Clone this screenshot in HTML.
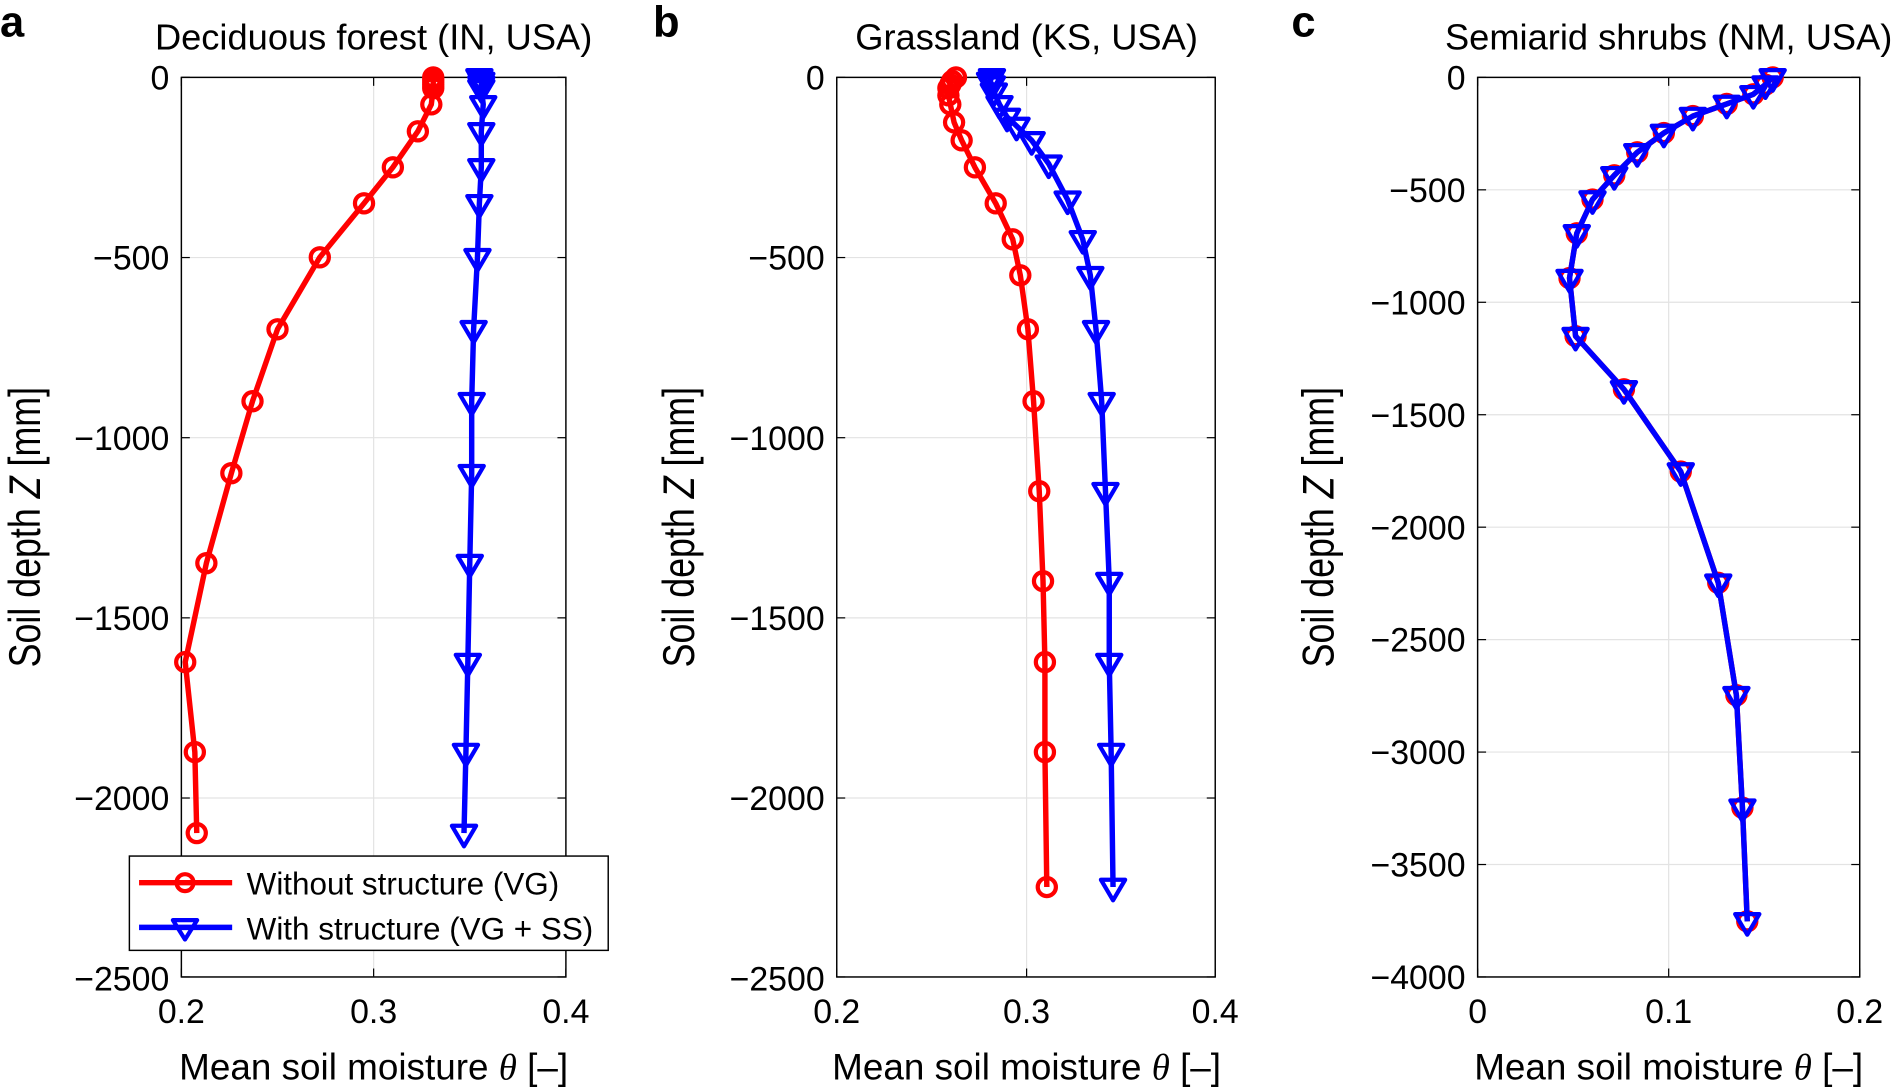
<!DOCTYPE html>
<html><head><meta charset="utf-8"><style>
html,body{margin:0;padding:0;background:#fff;}
svg{display:block;font-family:"Liberation Sans",Arial,sans-serif;}
.t{font-size:28px;fill:#000;}
.ti{font-size:30px;fill:#000;}
.xl{font-size:30.5px;fill:#000;}
.yl{font-size:37px;fill:#000;}
.lt{font-size:36px;font-weight:bold;fill:#000;}
</style></head><body>
<svg id="s" width="1896" height="1087" viewBox="0 0 1568 899" preserveAspectRatio="none" xmlns="http://www.w3.org/2000/svg">
<g id="grids"></g>
<g id="data"></g>
<text class="lt" x="0" y="30">a</text>
<text class="lt" x="540" y="30">b</text>
<text class="lt" x="1068" y="30">c</text>
<text class="ti" x="309" y="41" text-anchor="middle">Deciduous forest (IN, USA)</text>
<text class="ti" x="849" y="41" text-anchor="middle">Grassland (KS, USA)</text>
<text class="ti" x="1380" y="41" text-anchor="middle">Semiarid shrubs (NM, USA)</text>
<g class="t" text-anchor="end">
<text x="140" y="74">0</text><text x="140" y="223">−500</text><text x="140" y="372">−1000</text><text x="140" y="521">−1500</text><text x="140" y="670">−2000</text><text x="140" y="819">−2500</text>
<text x="682" y="74">0</text><text x="682" y="223">−500</text><text x="682" y="372">−1000</text><text x="682" y="521">−1500</text><text x="682" y="670">−2000</text><text x="682" y="819">−2500</text>
<text x="1212" y="74">0</text><text x="1212" y="167">−500</text><text x="1212" y="260">−1000</text><text x="1212" y="353">−1500</text><text x="1212" y="446">−2000</text><text x="1212" y="539">−2500</text><text x="1212" y="632">−3000</text><text x="1212" y="725">−3500</text><text x="1212" y="818">−4000</text>
</g>
<g class="t" text-anchor="middle">
<text x="150" y="846">0.2</text><text x="309" y="846">0.3</text><text x="468" y="846">0.4</text>
<text x="692" y="846">0.2</text><text x="849" y="846">0.3</text><text x="1005" y="846">0.4</text>
<text x="1222" y="846">0</text><text x="1380" y="846">0.1</text><text x="1538" y="846">0.2</text>
</g>
<g class="xl" text-anchor="middle">
<text x="309" y="893">Mean soil moisture <tspan font-family="Liberation Serif" font-style="italic">θ</tspan> [–]</text>
<text x="849" y="893">Mean soil moisture <tspan font-family="Liberation Serif" font-style="italic">θ</tspan> [–]</text>
<text x="1380" y="893">Mean soil moisture <tspan font-family="Liberation Serif" font-style="italic">θ</tspan> [–]</text>
</g>
<g class="yl" text-anchor="middle">
<text transform="translate(33,436) rotate(-90) scale(0.8,1)">Soil depth <tspan font-style="italic">Z</tspan> [mm]</text>
<text transform="translate(574,436) rotate(-90) scale(0.8,1)">Soil depth <tspan font-style="italic">Z</tspan> [mm]</text>
<text transform="translate(1103,436) rotate(-90) scale(0.8,1)">Soil depth <tspan font-style="italic">Z</tspan> [mm]</text>
</g>
<rect x="107" y="708" width="396" height="78" fill="#fff" stroke="#000" stroke-width="1.2"/>
<line x1="115" y1="730" x2="192" y2="730" stroke="#f00" stroke-width="4.5"/>
<circle cx="153" cy="730" r="7" fill="none" stroke="#f00" stroke-width="3.5"/>
<line x1="115" y1="767" x2="192" y2="767" stroke="#00f" stroke-width="4.5"/>
<path d="M143,761 L163,761 L153,777 Z" fill="none" stroke="#00f" stroke-width="3.5" stroke-linejoin="round"/>
<text class="ti" x="204" y="740" style="font-size:26px">Without structure (VG)</text>
<text class="ti" x="204" y="777" style="font-size:26px">With structure (VG + SS)</text>
</svg>
<script>
var NS="http://www.w3.org/2000/svg";
var G=document.getElementById("grids"),D=document.getElementById("data");
function el(p,n,a){var e=document.createElementNS(NS,n);for(var k in a)e.setAttribute(k,a[k]);p.appendChild(e);return e;}
var panels=[
 {x0:150,x1:468,xs:[150,309,468],ys:[64,213,362,511,660,808],xv:[0.2,0.4],yv:[0,-2500]},
 {x0:692,x1:1005,xs:[692,849,1005],ys:[64,213,362,511,660,808],xv:[0.2,0.4],yv:[0,-2500]},
 {x0:1222,x1:1538,xs:[1222,1380,1538],ys:[64,157,250,343,436,529,622,715,808],xv:[0,0.2],yv:[0,-4000]}
];
panels.forEach(function(p){
 p.xs.forEach(function(x){el(G,"line",{x1:x,y1:64,x2:x,y2:808,stroke:"#e3e3e3","stroke-width":1});
  el(G,"line",{x1:x,y1:64,x2:x,y2:71,stroke:"#000","stroke-width":1});el(G,"line",{x1:x,y1:808,x2:x,y2:801,stroke:"#000","stroke-width":1});});
 p.ys.forEach(function(y){el(G,"line",{x1:p.x0,y1:y,x2:p.x1,y2:y,stroke:"#e3e3e3","stroke-width":1});
  el(G,"line",{x1:p.x0,y1:y,x2:p.x0+7,y2:y,stroke:"#000","stroke-width":1});el(G,"line",{x1:p.x1,y1:y,x2:p.x1-7,y2:y,stroke:"#000","stroke-width":1});});
 el(G,"rect",{x:p.x0,y:64,width:p.x1-p.x0,height:744,fill:"none",stroke:"#000","stroke-width":1.2});
});
function map(p,pts){return pts.map(function(d){return [p.x0+(d[0]-p.xv[0])/(p.xv[1]-p.xv[0])*(p.x1-p.x0),64+(d[1]-p.yv[0])/(p.yv[1]-p.yv[0])*744];});}
function series(pts,col,mk){
 el(D,"polyline",{points:pts.map(function(q){return q.join(",")}).join(" "),fill:"none",stroke:col,"stroke-width":4.5,"stroke-linejoin":"round"});
 pts.forEach(function(q){
  if(mk=="o")el(D,"circle",{cx:q[0],cy:q[1],r:7.5,fill:"none",stroke:col,"stroke-width":3.5});
  else el(D,"path",{d:"M"+(q[0]-10)+","+(q[1]-6)+" L"+(q[0]+10)+","+(q[1]-6)+" L"+q[0]+","+(q[1]+11)+" Z",fill:"none",stroke:col,"stroke-width":3.5,"stroke-linejoin":"round"});
 });
}
var aR=[[0.331,0],[0.331,-10],[0.331,-20],[0.331,-30],[0.330,-75],[0.323,-150],[0.31,-250],[0.295,-350],[0.272,-500],[0.250,-700],[0.237,-900],[0.226,-1100],[0.213,-1350],[0.202,-1625],[0.207,-1875],[0.208,-2100]];
var aB=[[0.355,0],[0.356,-10],[0.356,-20],[0.356,-30],[0.357,-75],[0.356,-150],[0.356,-250],[0.355,-350],[0.354,-500],[0.352,-700],[0.351,-900],[0.351,-1100],[0.350,-1350],[0.349,-1625],[0.348,-1875],[0.347,-2100]];
var bR=[[0.263,0],[0.261,-10],[0.260,-20],[0.259,-30],[0.259,-50],[0.260,-75],[0.262,-125],[0.266,-175],[0.273,-250],[0.284,-350],[0.293,-450],[0.297,-550],[0.301,-700],[0.304,-900],[0.307,-1150],[0.309,-1400],[0.310,-1625],[0.310,-1875],[0.311,-2250]];
var bB=[[0.282,0],[0.281,-10],[0.282,-20],[0.283,-40],[0.286,-75],[0.290,-110],[0.295,-135],[0.303,-175],[0.312,-240],[0.322,-340],[0.330,-450],[0.334,-550],[0.337,-700],[0.340,-900],[0.342,-1150],[0.344,-1400],[0.344,-1625],[0.345,-1875],[0.346,-2250]];
var c=[[1466,64],[1460,70],[1450,78],[1428,86],[1400,96],[1376,110],[1354,126],[1335,145],[1317,165],[1304,193],[1298,230],[1303,278],[1343,322],[1390,390],[1421,482],[1436,575],[1441,668],[1445,762]];
series(map(panels[0],aR),"#f00","o");series(map(panels[0],aB),"#00f","v");
series(map(panels[1],bR),"#f00","o");series(map(panels[1],bB),"#00f","v");
series(c,"#f00","o");series(c,"#00f","v");
</script>
</body></html>
